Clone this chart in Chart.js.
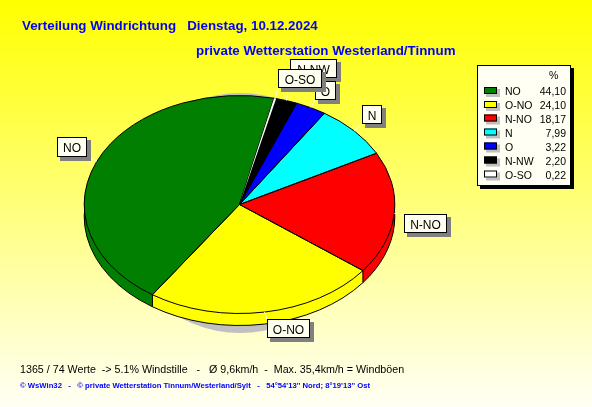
<!DOCTYPE html>
<html><head><meta charset="utf-8">
<script src="https://cdn.jsdelivr.net/npm/chart.js@4"></script>
<style>
html,body{margin:0;padding:0;width:592px;height:407px;overflow:hidden;background:linear-gradient(180deg,#ffff00 0%,#fffff6 100%)}
canvas{display:block}
</style></head><body>
<div style="width:592px;height:407px"><canvas id="c" width="592" height="407"></canvas></div>
<script>
// Data, in the order of the reference legend
const categories = ['NO','O-NO','N-NO','N','O','N-NW','O-SO'];
const shares     = [44.10,24.10,18.17,7.99,3.22,2.20,0.22];
const shareTexts = ['44,10','24,10','18,17','7,99','3,22','2,20','0,22'];
const colours    = ['#007f00','#ffff00','#ff0000','#00ffff','#0000ff','#000000','#ffffff'];
// Clockwise order of the slices in the pie
const clockwise  = ['NO','O-SO','N-NW','O','N','N-NO','O-NO'];
const titleLine1 = 'Verteilung Windrichtung   Dienstag, 10.12.2024';
const titleLine2 = 'private Wetterstation Westerland/Tinnum';
const footLine1  = '1365 / 74 Werte  -> 5.1% Windstille   -   Ø 9,6km/h  -  Max. 35,4km/h = Windböen';
const footLine2  = '© WsWin32   -   © private Wetterstation Tinnum/Westerland/Sylt   -   54°54\'13\'\' Nord; 8°19\'13\'\' Ost';

// Layout
const PIE = {cx:239.5, cy:204.5, rx:155.3, ry:109, depth:12, startDeg:214.1};
const SHADOW = {cx:240, cy:213, rx:122, ry:120};
const callouts = [ // drawn in this order, so later boxes cover earlier ones
  {label:'NO',   x:57,  y:137, w:30, h:20},
  {label:'N-NO', x:404, y:214, w:43, h:19},
  {label:'O-NO', x:267, y:319, w:43, h:19},
  {label:'N',    x:362, y:105, w:20, h:19},
  {label:'N-NW', x:290, y:59,  w:47, h:19},
  {label:'O',    x:315, y:81,  w:21, h:19},
  {label:'O-SO', x:278, y:69,  w:44, h:19}
];
const LEG = {x:477, y:65, w:94, h:121, rowY:[91,105,118.5,132.5,146.5,160.5,174.5]};
const SANS = '"Liberation Sans", Arial, sans-serif';

const idx = clockwise.map(n => categories.indexOf(n));

function wedge(ctx, a, d) {
  ctx.save();
  ctx.translate(PIE.cx, PIE.cy + d);
  ctx.scale(1, PIE.ry / PIE.rx);
  ctx.beginPath();
  ctx.moveTo(0, 0);
  ctx.arc(0, 0, a.outerRadius, a.startAngle, a.endAngle);
  ctx.closePath();
  ctx.restore();
}
function rim(ctx, a, d) {
  ctx.save();
  ctx.translate(PIE.cx, PIE.cy + d);
  ctx.scale(1, PIE.ry / PIE.rx);
  ctx.beginPath();
  ctx.arc(0, 0, a.outerRadius, a.startAngle, a.endAngle);
  ctx.restore();
}
function edgePoint(r, ang) {
  return {x: PIE.cx + Math.cos(ang) * r, y: PIE.cy + Math.sin(ang) * r * PIE.ry / PIE.rx};
}

const pie3d = {
  id: 'pie3d',
  beforeDatasetsDraw(chart) {
    const ctx = chart.ctx, arcs = chart.getDatasetMeta(0).data;
    ctx.save();
    // soft grey shadow behind the pie
    ctx.fillStyle = '#c0c0c0';
    ctx.beginPath();
    ctx.ellipse(SHADOW.cx, SHADOW.cy, SHADOW.rx, SHADOW.ry, 0, 0, Math.PI * 2);
    ctx.fill();
    // extruded side
    for (let d = PIE.depth; d >= 1; d--) {
      arcs.forEach((a, i) => {
        ctx.fillStyle = colours[idx[i]];
        wedge(ctx, a, d);
        ctx.fill();
      });
    }
    ctx.strokeStyle = '#000'; ctx.lineWidth = 1;
    arcs.forEach(a => { rim(ctx, a, PIE.depth); ctx.stroke(); });
    arcs.forEach(a => {
      const s = Math.sin(a.endAngle);
      if (s > 0) {
        const p = edgePoint(a.outerRadius, a.endAngle);
        ctx.beginPath(); ctx.moveTo(p.x, p.y); ctx.lineTo(p.x, p.y + PIE.depth); ctx.stroke();
      }
    });
    ctx.restore();
    // squash the library's circle into the ellipse
    ctx.save();
    ctx.translate(PIE.cx, PIE.cy);
    ctx.scale(1, PIE.ry / PIE.rx);
    ctx.translate(-PIE.cx, -PIE.cy);
  },
  afterDatasetsDraw(chart) {
    const ctx = chart.ctx, arcs = chart.getDatasetMeta(0).data;
    ctx.restore();
    ctx.save();
    ctx.strokeStyle = '#000'; ctx.lineWidth = 1;
    arcs.forEach(a => { wedge(ctx, a, 0); ctx.stroke(); });
    // the narrowest slice stays visible above the outlines
    arcs.forEach((a, i) => {
      if (shares[idx[i]] < 1) { ctx.fillStyle = colours[idx[i]]; wedge(ctx, a, 0); ctx.fill(); }
    });
    ctx.restore();
  },
  afterDraw(chart) {
    const ctx = chart.ctx, arcs = chart.getDatasetMeta(0).data;
    ctx.save();
    ctx.textBaseline = 'alphabetic';
    // titles
    ctx.fillStyle = '#0000ff';
    ctx.font = 'bold 13.35px ' + SANS;
    ctx.textAlign = 'left';
    ctx.fillText(titleLine1, 22, 30);
    ctx.fillText(titleLine2, 196, 55);
    // leaders
    ctx.strokeStyle = '#ffffff'; ctx.lineWidth = 1;
    callouts.forEach(c => {
      const a = arcs[clockwise.indexOf(c.label)];
      const mid = (a.startAngle + a.endAngle) / 2;
      const p = edgePoint(a.outerRadius, mid);
      const tx = Math.max(c.x, Math.min(c.x + c.w, p.x));
      const ty = Math.max(c.y, Math.min(c.y + c.h, p.y));
      ctx.beginPath(); ctx.moveTo(p.x, p.y); ctx.lineTo(tx, ty); ctx.stroke();
    });
    // callout boxes
    callouts.forEach(c => {
      ctx.fillStyle = '#808080';
      ctx.fillRect(c.x + 3, c.y + 3, c.w + 1, c.h + 1);
      ctx.fillStyle = '#fffff0';
      ctx.fillRect(c.x, c.y, c.w, c.h);
      ctx.strokeStyle = '#000';
      ctx.strokeRect(c.x + .5, c.y + .5, c.w - 1, c.h - 1);
      ctx.fillStyle = '#000';
      ctx.font = '12px ' + SANS;
      ctx.textAlign = 'center';
      ctx.fillText(c.label, c.x + c.w / 2, c.y + 14.5);
    });
    // legend
    ctx.fillStyle = '#000';
    ctx.fillRect(LEG.x + 3, LEG.y + 3, LEG.w, LEG.h);
    ctx.fillStyle = '#fffff4';
    ctx.fillRect(LEG.x, LEG.y, LEG.w, LEG.h);
    ctx.strokeStyle = '#000';
    ctx.strokeRect(LEG.x + .5, LEG.y + .5, LEG.w - 1, LEG.h - 1);
    ctx.font = '10.5px ' + SANS;
    ctx.fillStyle = '#000';
    ctx.textAlign = 'left';
    ctx.fillText('%', LEG.x + 72, 79);
    categories.forEach((name, i) => {
      const y = LEG.rowY[i];
      ctx.fillStyle = '#c0c0c0';
      ctx.fillRect(LEG.x + 9, y - 2, 14, 8);
      ctx.fillStyle = colours[i];
      ctx.fillRect(LEG.x + 7, y - 4, 13, 7);
      ctx.strokeStyle = '#000';
      ctx.strokeRect(LEG.x + 7.5, y - 3.5, 12, 6);
      ctx.fillStyle = '#000';
      ctx.textAlign = 'left';
      ctx.fillText(name, LEG.x + 28, y + 4);
      ctx.textAlign = 'right';
      ctx.fillText(shareTexts[i], LEG.x + 89, y + 4);
    });
    // footers
    ctx.textAlign = 'left';
    ctx.fillStyle = '#000';
    ctx.font = '10.7px ' + SANS;
    ctx.fillText(footLine1, 20, 373);
    ctx.fillStyle = '#0000ff';
    ctx.font = 'bold 7.7px ' + SANS;
    ctx.fillText(footLine2, 20, 388);
    ctx.restore();
  }
};

new Chart(document.getElementById('c'), {
  type: 'pie',
  data: {
    labels: idx.map(i => categories[i]),
    datasets: [{
      data: idx.map(i => shares[i]),
      backgroundColor: idx.map(i => colours[i]),
      borderWidth: 0
    }]
  },
  options: {
    responsive: false,
    animation: false,
    rotation: PIE.startDeg,
    radius: PIE.rx,
    layout: {padding: {left: PIE.cx - PIE.rx - 1, right: 592 - PIE.cx - PIE.rx - 1,
                       top: PIE.cy - PIE.rx - 1, bottom: 407 - PIE.cy - PIE.rx - 1}},
    plugins: {legend: {display: false}, tooltip: {enabled: false}, title: {display: false}}
  },
  plugins: [pie3d]
});
</script>
</body></html>
